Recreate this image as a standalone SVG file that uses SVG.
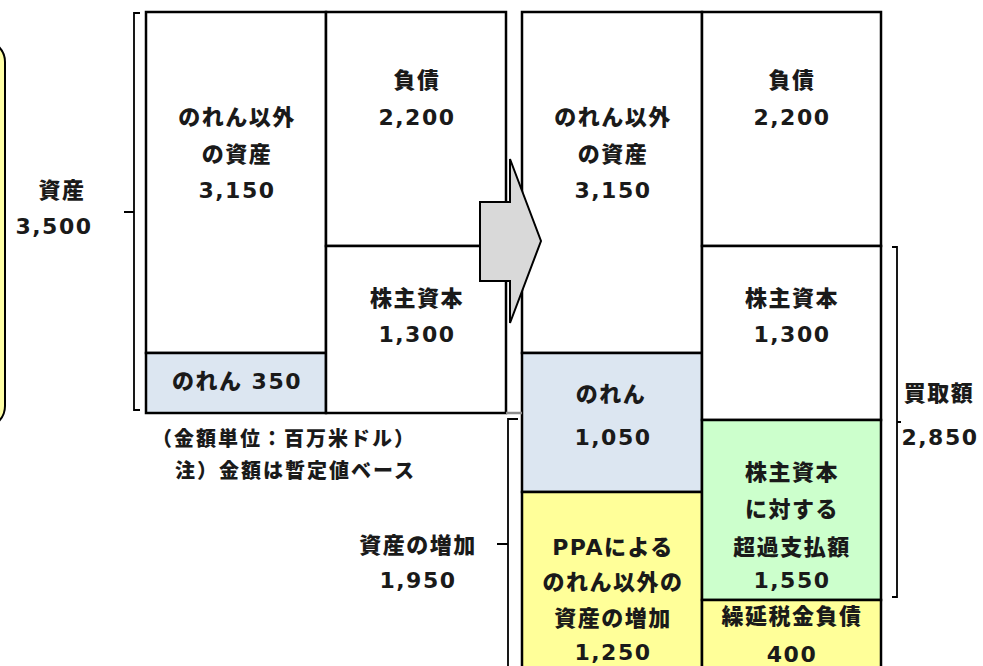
<svg xmlns="http://www.w3.org/2000/svg" width="983" height="666" viewBox="0 0 983 666">
<style>
text{font-family:"DejaVu Sans","Noto Sans CJK JP",sans-serif;font-weight:900;font-size:22px;fill:#1a1a1a;letter-spacing:1.5px;text-anchor:middle}
.note{font-size:20px;letter-spacing:2px;text-anchor:start}
.box{stroke:#000;stroke-width:2.5}
.ln{stroke:#000;stroke-width:2.5;fill:none}
.br{stroke:#000;stroke-width:1.8;fill:none}
</style>
<rect width="983" height="666" fill="#fff"/>
<g id="side-panel">
<rect x="-60" y="40" width="65" height="388" rx="22" fill="#ffffa6" stroke="#000" stroke-width="2"/>
</g>
<g id="total-assets">
<text x="62" y="198">資産</text>
<text x="54" y="234">3,500</text>
</g>
<g id="left-other-assets">
<rect class="box" x="146" y="12" width="180" height="341" fill="#fff"/>
<text x="237" y="125">のれん以外</text>
<text x="237" y="162">の資産</text>
<text x="237" y="198">3,150</text>
</g>
<g id="left-goodwill">
<rect class="box" x="146" y="353" width="180" height="60" fill="#dce6f1"/>
<text x="237" y="389">のれん 350</text>
</g>
<g id="left-liabilities">
<rect class="box" x="326" y="12" width="180" height="234" fill="#fff"/>
<text x="417" y="88">負債</text>
<text x="417" y="125">2,200</text>
</g>
<g id="left-equity">
<rect class="box" x="326" y="246" width="180" height="167" fill="#fff"/>
<text x="417" y="306">株主資本</text>
<text x="417" y="342">1,300</text>
</g>
<g id="notes">
<text class="note" x="152" y="446">（金額単位：百万米ドル）</text>
<text class="note" x="175" y="478">注）金額は暫定値ベース</text>
</g>
<g id="asset-increase-label">
<text x="418" y="553">資産の増加</text>
<text x="418" y="588">1,950</text>
</g>
<g id="right-other-assets">
<rect class="box" x="522" y="12" width="180" height="341" fill="#fff"/>
<text x="613" y="125">のれん以外</text>
<text x="613" y="162">の資産</text>
<text x="613" y="198">3,150</text>
</g>
<g id="right-goodwill">
<rect class="box" x="522" y="353" width="180" height="139" fill="#dce6f1"/>
<text x="611" y="402">のれん</text>
<text x="613" y="445">1,050</text>
</g>
<g id="right-ppa">
<rect class="box" x="522" y="492" width="180" height="190" fill="#ffff99"/>
<text x="613" y="555">PPAによる</text>
<text x="613" y="590">のれん以外の</text>
<text x="613" y="626">資産の増加</text>
<text x="613" y="660">1,250</text>
</g>
<g id="right-liabilities">
<rect class="box" x="702" y="12" width="179" height="234" fill="#fff"/>
<text x="792" y="88">負債</text>
<text x="792" y="125">2,200</text>
</g>
<g id="right-equity">
<rect class="box" x="702" y="246" width="179" height="174" fill="#fff"/>
<text x="792" y="306">株主資本</text>
<text x="792" y="342">1,300</text>
</g>
<g id="right-excess">
<rect class="box" x="702" y="420" width="179" height="180" fill="#ccffcc"/>
<text x="792" y="480">株主資本</text>
<text x="792" y="517">に対する</text>
<text x="792" y="555">超過支払額</text>
<text x="792" y="588">1,550</text>
</g>
<g id="right-dtl">
<rect class="box" x="702" y="600" width="179" height="90" fill="#ffff99"/>
<text x="792" y="624">繰延税金負債</text>
<text x="792" y="662">400</text>
</g>
<g id="purchase-price">
<text x="939" y="401">買取額</text>
<text x="940" y="445">2,850</text>
</g>
<g id="connectors">
<line x1="506" y1="246" x2="482" y2="246" class="ln"/>
<line x1="506" y1="413" x2="522" y2="413" stroke="#8c8c8c" stroke-width="2.5"/>
<polygon points="480,202 510,202 510,159 541,241 510,323 510,281 480,281" fill="#d9d9d9" stroke="#000" stroke-width="2"/>
<path class="br" d="M140,13 H134 V410 H140 M134,212 H124"/>
<path class="br" d="M518,419 H508 V670 M508,544 H497"/>
<path class="br" d="M892,247 H897 V597 H892 M897,422 H901"/>
</g>
</svg>
